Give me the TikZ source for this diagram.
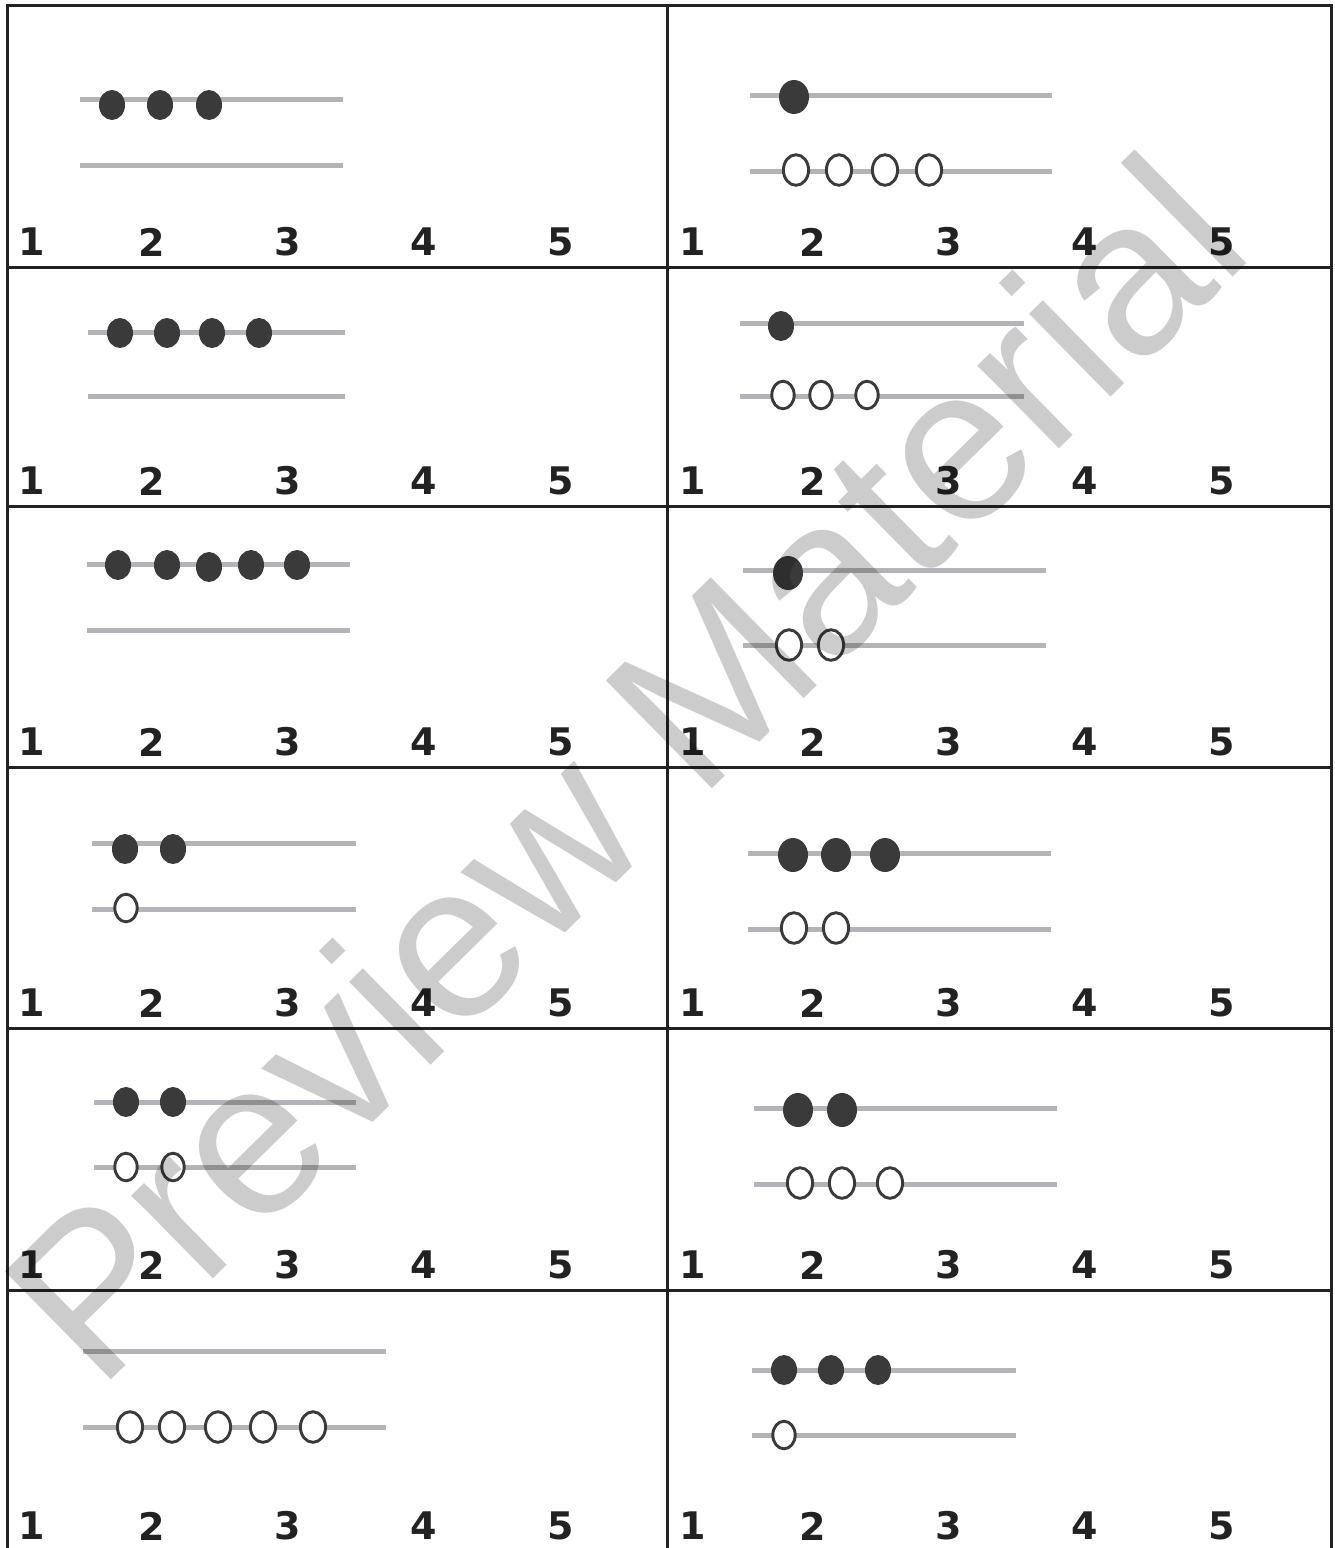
\documentclass[tikz,border=0pt]{standalone}
\usepackage{fontspec}
\setmainfont{DejaVu Sans}
\newfontfamily\wmfont{Liberation Sans}
\usepackage{tikz}
\definecolor{rodgrey}{RGB}{180,180,184}
\definecolor{beaddark}{RGB}{58,58,58}
\definecolor{framedark}{RGB}{34,34,34}

\begin{document}
\begin{tikzpicture}[x=0.5pt, y=-0.5pt,
  frame/.style={draw=framedark, line width=1.5pt},
  rod/.style={draw=rodgrey, line width=2.5pt},
  full/.style={fill=beaddark},
  hollow/.style={draw=beaddark, fill=white, line width=1.45pt},
  bead/.style={x radius=13, y radius=15},
  bigbead/.style={x radius=15, y radius=17},
  ring/.style={x radius=11.2, y radius=13.8},
  bigring/.style={x radius=12.6, y radius=15.3},
  num/.style={inner sep=0pt, font=\fontsize{19}{19}\selectfont\bfseries, text=framedark},
  wmark/.style={inner sep=0pt, font=\wmfont\fontsize{110}{110}\selectfont,
    text=black, text opacity=0.2}]

\useasboundingbox (0,0) rectangle (1334,1548);

% frame and grid
\draw[frame] (7,1548) -- (7,5) -- (1331,5) -- (1331,1548);
\draw[frame] (667,5) -- (667,1548);
\foreach \y in {267,506,767,1028,1290}
  \draw[frame] (7,\y) -- (1331,\y);

% number strips
\foreach \r/\y in {0/242,1/481,2/742,3/1003,4/1265,5/1526}{
  \foreach \i/\x in {1/32,2/152,3/288,4/424,5/561}{
    \node[num] (L\r-\i) at (\x,\y) {\i};
    \node[num] (R\r-\i) at (\x+661,\y) {\i};
  }
}

% row 0
\draw[rod] (80,99) -- (343,99);
\draw[rod] (80,165) -- (343,165);
\foreach \x in {112,160,209} \fill[full] (\x,105) ellipse [bead];
\draw[rod] (750,95) -- (1052,95);
\draw[rod] (750,171) -- (1052,171);
\fill[full] (794,97) ellipse [bigbead];
\foreach \x in {796,839,885,929} \draw[hollow] (\x,170) ellipse [bigring];

% row 1
\draw[rod] (88,332) -- (345,332);
\draw[rod] (88,396) -- (345,396);
\foreach \x in {120,167,212,259} \fill[full] (\x,333) ellipse [bead];
\draw[rod] (740,323) -- (1024,323);
\draw[rod] (740,396) -- (1024,396);
\fill[full] (781,326) ellipse [bead];
\foreach \x in {783,821,867} \draw[hollow] (\x,395) ellipse [ring];

% row 2
\draw[rod] (87,564) -- (350,564);
\draw[rod] (87,630) -- (350,630);
\foreach \x/\y in {118/565,167/565,209/567,251/565,297/565} \fill[full] (\x,\y) ellipse [bead];
\draw[rod] (743,570) -- (1046,570);
\draw[rod] (743,645) -- (1046,645);
\fill[full] (788,573) ellipse [bigbead];
\foreach \x in {789,831} \draw[hollow] (\x,645) ellipse [bigring];

% row 3
\draw[rod] (92,843) -- (356,843);
\draw[rod] (92,909) -- (356,909);
\foreach \x in {125,173} \fill[full] (\x,849) ellipse [bead];
\draw[hollow] (126,908) ellipse [ring];
\draw[rod] (748,853) -- (1051,853);
\draw[rod] (748,929) -- (1051,929);
\foreach \x in {793,836,885} \fill[full] (\x,855) ellipse [bigbead];
\foreach \x in {794,836} \draw[hollow] (\x,928) ellipse [bigring];

% row 4
\draw[rod] (94,1102) -- (356,1102);
\draw[rod] (94,1167) -- (356,1167);
\foreach \x in {126,173} \fill[full] (\x,1102) ellipse [bead];
\foreach \x in {126,173} \draw[hollow] (\x,1167) ellipse [ring];
\draw[rod] (754,1108) -- (1057,1108);
\draw[rod] (754,1184) -- (1057,1184);
\foreach \x in {798,842} \fill[full] (\x,1110) ellipse [bigbead];
\foreach \x in {800,842,890} \draw[hollow] (\x,1183) ellipse [bigring];

% row 5
\draw[rod] (83,1351) -- (386,1351);
\draw[rod] (83,1427) -- (386,1427);
\foreach \x in {130,172,218,263,313} \draw[hollow] (\x,1427) ellipse [bigring];
\draw[rod] (752,1370) -- (1016,1370);
\draw[rod] (752,1435) -- (1016,1435);
\foreach \x in {784,831,878} \fill[full] (\x,1370) ellipse [bead];
\draw[hollow] (784,1435) ellipse [ring];

% watermark
\node[wmark, rotate=44.5, anchor=base] (wm) at (678,823) {Preview Material};
\end{tikzpicture}
\end{document}
